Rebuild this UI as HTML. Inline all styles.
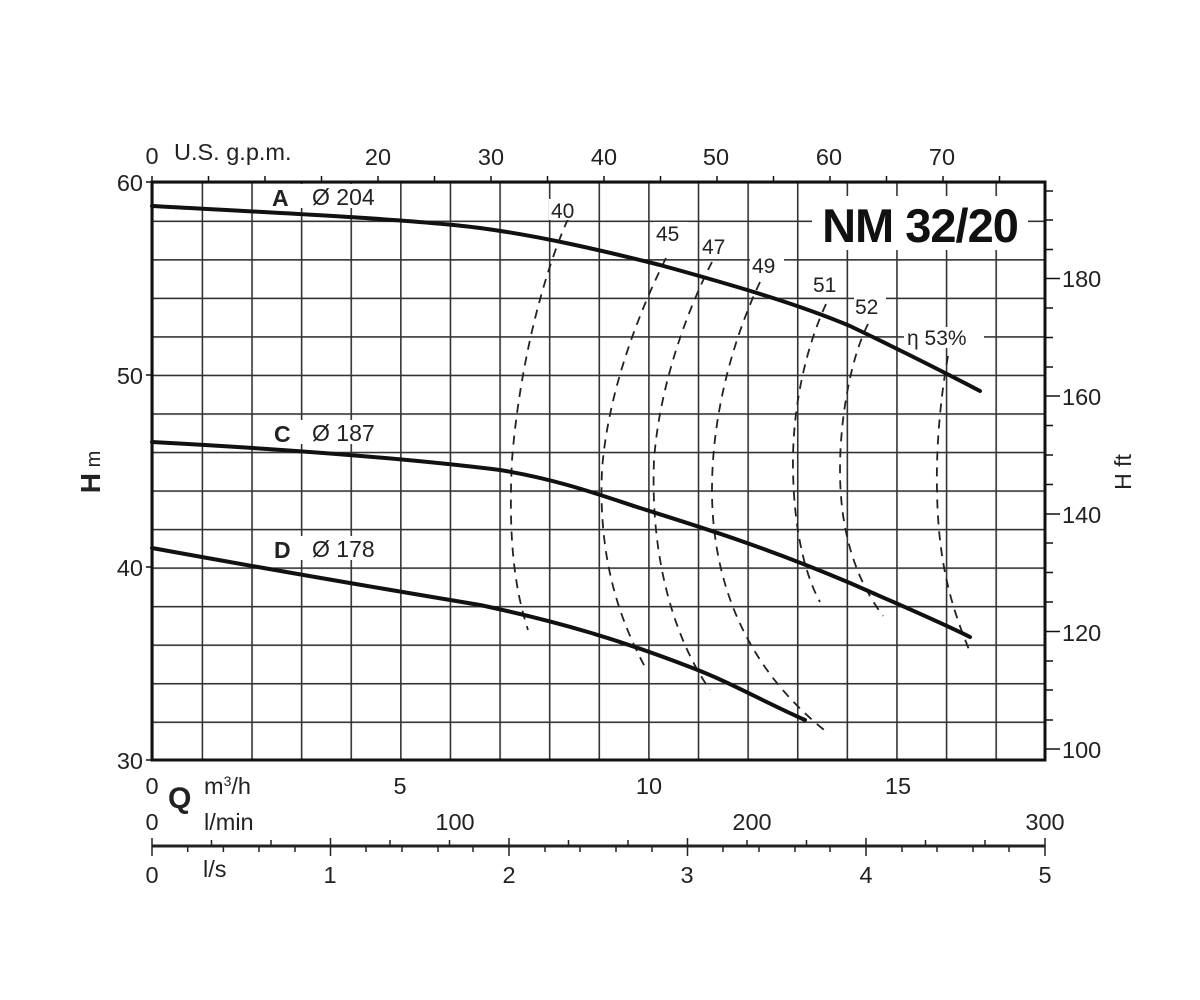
<!DOCTYPE html>
<html><head><meta charset="utf-8"><style>
html,body{margin:0;padding:0;background:#fff;}
svg{display:block;font-family:"Liberation Sans",Arial,sans-serif;}
</style></head><body>
<svg width="1200" height="1000" viewBox="0 0 1200 1000">
<defs>
<pattern id="g" x="152" y="182" width="49.611" height="38.533" patternUnits="userSpaceOnUse">
<path d="M0.8 0 V38.533 M0 0.8 H49.611" stroke="#333" stroke-width="1.6" fill="none"/>
</pattern>
</defs>
<rect x="152" y="182" width="893" height="578" fill="url(#g)"/>
<rect x="152" y="182" width="893" height="578" fill="none" stroke="#111" stroke-width="3"/>
<rect x="812" y="196" width="216" height="54" fill="#fff"/>
<text x="920" y="242" font-size="47" font-weight="bold" text-anchor="middle" fill="#111" letter-spacing="-1">NM 32/20</text>
<g stroke="#111" stroke-width="1.5">
<path d="M152 176V182M208.5 176V182M265 176V182M321.5 176V182M378 176V182M434.5 176V182M491 176V182M547.5 176V182M604 176V182M660.5 176V182M717 176V182M773.5 176V182M830 176V182M886.5 176V182M943 176V182M999.5 176V182"/>
<path d="M1045 191H1053M1045 220H1053M1045 249.5H1053M1045 278.5H1060M1045 308H1053M1045 337.5H1053M1045 367H1053M1045 396H1060M1045 425.5H1053M1045 455H1053M1045 484.5H1053M1045 514H1060M1045 543H1053M1045 572.5H1053M1045 602H1053M1045 631.5H1060M1045 661H1053M1045 690H1053M1045 720H1053M1045 749H1060"/>
<path d="M146 182H152M146 375H152M146 567H152M146 760H152"/>
</g>
<g font-size="23.5" fill="#222">
<text x="152" y="164" text-anchor="middle">0</text>
<text x="174" y="160">U.S. g.p.m.</text>
<text x="378" y="165" text-anchor="middle">20</text>
<text x="491" y="165" text-anchor="middle">30</text>
<text x="604" y="165" text-anchor="middle">40</text>
<text x="716" y="165" text-anchor="middle">50</text>
<text x="829" y="165" text-anchor="middle">60</text>
<text x="942" y="165" text-anchor="middle">70</text>
<text x="143" y="191" text-anchor="end">60</text>
<text x="143" y="384" text-anchor="end">50</text>
<text x="143" y="576" text-anchor="end">40</text>
<text x="143" y="769" text-anchor="end">30</text>
<text x="1062" y="287">180</text>
<text x="1062" y="405">160</text>
<text x="1062" y="523">140</text>
<text x="1062" y="641">120</text>
<text x="1062" y="758">100</text>
<text x="152" y="794" text-anchor="middle">0</text>
<text x="400" y="794" text-anchor="middle">5</text>
<text x="649" y="794" text-anchor="middle">10</text>
<text x="898" y="794" text-anchor="middle">15</text>
<text x="204" y="794">m<tspan font-size="14" dy="-8">3</tspan><tspan dy="8">/h</tspan></text>
<text x="152" y="830" text-anchor="middle">0</text>
<text x="204" y="830">l/min</text>
<text x="455" y="830" text-anchor="middle">100</text>
<text x="752" y="830" text-anchor="middle">200</text>
<text x="1045" y="830" text-anchor="middle">300</text>
<text x="152" y="883" text-anchor="middle">0</text>
<text x="203" y="877">l/s</text>
<text x="330" y="883" text-anchor="middle">1</text>
<text x="509" y="883" text-anchor="middle">2</text>
<text x="687" y="883" text-anchor="middle">3</text>
<text x="866" y="883" text-anchor="middle">4</text>
<text x="1045" y="883" text-anchor="middle">5</text>
</g>
<text x="168" y="808" font-size="30" font-weight="bold" fill="#222">Q</text>
<text transform="translate(100,472) rotate(-90)" font-size="28" fill="#222" text-anchor="middle"><tspan font-weight="bold">H</tspan><tspan font-size="20"> m</tspan></text>
<text transform="translate(1131,472) rotate(-90)" font-size="23" fill="#222" text-anchor="middle">H ft</text>
<g stroke="#222" stroke-width="1.5">
<path d="M152 846H1045" stroke-width="3"/>
<path d="M152 838V856M211.5 840V846M271 840V846M330.5 838V856M390 840V846M449.5 840V846M509 838V856M568.5 840V846M628 840V846M687.5 838V856M747 840V846M806.5 840V846M866 838V856M925.5 840V846M985 840V846M1045 838V856"/>
<path d="M187.7 846V852M223.4 846V852M259 846V852M295 846V852M366 846V852M402 846V852M438 846V852M473 846V852M545 846V852M580 846V852M616 846V852M652 846V852M723 846V852M759 846V852M795 846V852M830 846V852M902 846V852M937 846V852M973 846V852M1009 846V852"/>
</g>
<g fill="none" stroke="#222" stroke-width="1.8" stroke-dasharray="9,7">
<path d="M568 219 C545 270,520 360,512 460 C508 540,515 590,528 630"/>
<path d="M666 258 C640 310,608 390,602 470 C598 560,620 620,645 667"/>
<path d="M712 262 C690 305,660 380,654 460 C650 560,675 640,710 690"/>
<path d="M760 282 C735 335,712 410,712 490 C712 600,760 680,828 733"/>
<path d="M826 304 C805 350,792 410,793 470 C794 530,805 575,820 602"/>
<path d="M868 324 C850 360,840 420,840 470 C840 540,860 585,883 616"/>
<path d="M948 356 C940 400,936 450,937 490 C938 570,955 615,970 652"/>
</g>
<g font-size="21" fill="#222">
<rect x="549" y="199" width="34" height="21" fill="#fff"/><text x="551" y="218">40</text>
<rect x="654" y="222" width="34" height="21" fill="#fff"/><text x="656" y="241">45</text>
<rect x="700" y="235" width="34" height="21" fill="#fff"/><text x="702" y="254">47</text>
<rect x="750" y="254" width="34" height="21" fill="#fff"/><text x="752" y="273">49</text>
<rect x="812" y="273" width="30" height="21" fill="#fff"/><text x="813" y="292">51</text>
<rect x="854" y="295" width="32" height="21" fill="#fff"/><text x="855" y="314">52</text>
<rect x="904" y="327" width="80" height="21" fill="#fff"/><text x="907" y="345">η 53%</text>
</g>
<g fill="none" stroke="#111" stroke-width="4" stroke-linecap="round">
<path d="M152 206 C300 214,420 220,480 228 C540 236,600 250,660 265 C740 287,800 305,850 326 C900 350,940 370,980 391"/>
<path d="M152 442 C300 450,420 460,500 470 C560 480,600 495,640 508 C700 527,760 545,850 583 C900 605,940 622,970 637"/>
<path d="M152 548 C300 575,420 595,480 605 C560 622,620 640,690 667 C730 682,760 700,805 720"/>
</g>
<g font-size="23" fill="#222">
<rect x="268" y="184" width="122" height="24" fill="#fff"/>
<text x="272" y="206" font-weight="bold">A</text><text x="312" y="205">Ø 204</text>
<rect x="270" y="420" width="120" height="24" fill="#fff"/>
<text x="274" y="442" font-weight="bold">C</text><text x="312" y="441">Ø 187</text>
<rect x="270" y="536" width="120" height="24" fill="#fff"/>
<text x="274" y="558" font-weight="bold">D</text><text x="312" y="557">Ø 178</text>
</g>
</svg>
</body></html>
